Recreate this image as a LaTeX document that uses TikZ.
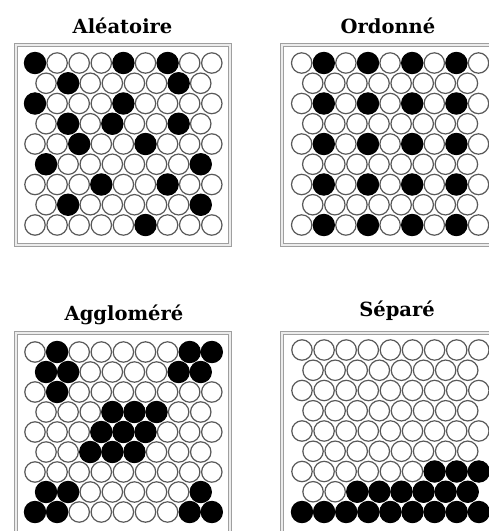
\documentclass[tikz,border=0pt]{standalone}
\usepackage{fontspec}
\setmainfont{DejaVu Serif}
\begin{document}
\begin{tikzpicture}[x=1pt,y=-1pt,
  frame/.style={draw=gray!75,line width=0.9pt,double=gray!15,double distance=1.4pt},
  wcirc/.style={draw=black!65,fill=white,line width=1.2pt},
  bcirc/.style={fill=black},
  ttl/.style={anchor=base,inner sep=0pt,font=\bfseries\fontsize{19.5}{23}\selectfont}]
\useasboundingbox[fill=white] (0,0) rectangle (489,531);
\begin{scope}
\clip (0,0) rectangle (489,531);
% grid macro: #1 x first circle, #2 y first row, #3 dy, #4 black list r/c
\newcommand\hexgrid[4]{%
  \foreach \r in {1,...,9}{%
    \pgfmathtruncatemacro\odd{mod(\r,2)}%
    \ifnum\odd=1 \def\nc{9}\def\off{0}\else\def\nc{8}\def\off{11.05}\fi
    \foreach \c in {1,...,\nc}{%
      \draw[wcirc] ({#1+\off+22.1*(\c-1)},{#2+#3*(\r-1)}) circle (10.2);
    }%
  }%
  \foreach \r/\c in {#4}{%
    \pgfmathtruncatemacro\odd{mod(\r,2)}%
    \ifnum\odd=1 \def\off{0}\else\def\off{11.05}\fi
    \fill[bcirc] ({#1+\off+22.1*(\c-1)},{#2+#3*(\r-1)}) circle (11.2);
  }%
}
% frames
\draw[frame] (16,45) rectangle (230,245);
\draw[frame] (282,45) rectangle (496,245);
\draw[frame] (16,333) rectangle (230,540);
\draw[frame] (282,333) rectangle (496,540);
% Aleatoire
\hexgrid{35}{63}{20.25}{1/1,1/5,1/7,2/2,2/7,3/1,3/5,4/2,4/4,4/7,5/3,5/6,6/1,6/8,7/4,7/7,8/2,8/8,9/6}
% Ordonne
\hexgrid{301.7}{63}{20.25}{1/2,1/4,1/6,1/8,3/2,3/4,3/6,3/8,5/2,5/4,5/6,5/8,7/2,7/4,7/6,7/8,9/2,9/4,9/6,9/8}
% Agglomere
\hexgrid{35}{352}{20}{1/2,1/8,1/9,2/1,2/2,2/7,2/8,3/2,4/4,4/5,4/6,5/4,5/5,5/6,6/3,6/4,6/5,8/1,8/2,8/8,9/1,9/2,9/8,9/9}
% Separe
\hexgrid{302}{350}{20.25}{7/7,7/8,7/9,8/3,8/4,8/5,8/6,8/7,8/8,9/1,9/2,9/3,9/4,9/5,9/6,9/7,9/8,9/9}
\end{scope}
\node[ttl] (t1) at (122.5,33) {Aléatoire};
\node[ttl] (t2) at (388,33) {Ordonné};
\node[ttl] (t3) at (124,320) {Aggloméré};
\node[ttl] (t4) at (397,316) {Séparé};
\end{tikzpicture}
\end{document}
